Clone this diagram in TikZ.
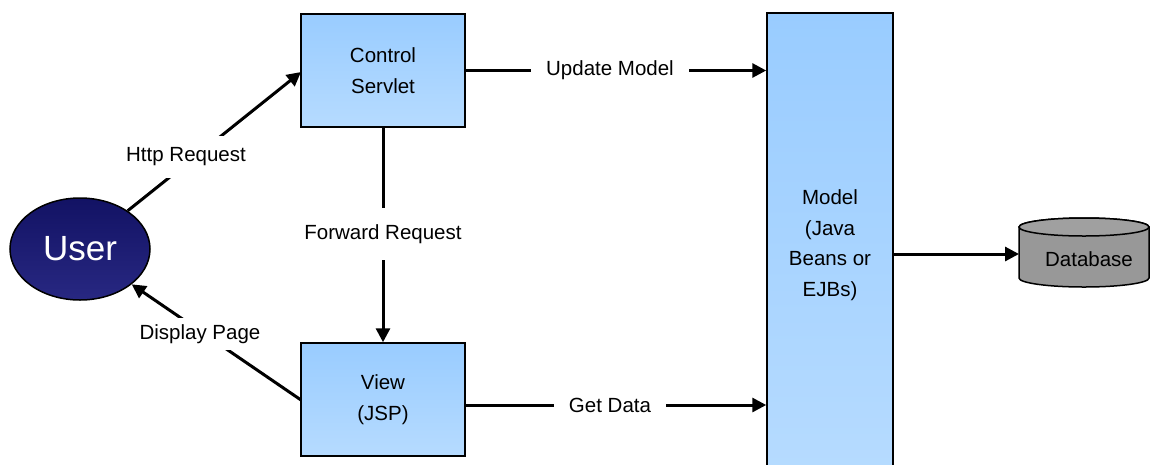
\documentclass[tikz,border=0pt]{standalone}
\usepackage{fontspec}
\setmainfont{Liberation Sans}
\usetikzlibrary{shapes.geometric,arrows.meta}
\definecolor{boxtop}{RGB}{153,204,255}
\definecolor{boxbot}{RGB}{182,219,255}
\definecolor{navytop}{RGB}{18,18,100}
\definecolor{navybot}{RGB}{40,40,130}
\definecolor{dbgray}{RGB}{152,152,152}
\definecolor{dbtop}{RGB}{160,160,160}
\begin{document}
\begin{tikzpicture}[x=1pt,y=-1pt,
  every node/.style={font=\fontsize{20.5}{30.5}\selectfont},
  blockbox/.style={draw=black,line width=1.5pt,top color=boxtop,bottom color=boxbot,
    minimum width=164pt,minimum height=113pt,align=center,inner sep=0pt},
  conn/.style={line width=3pt,-{Triangle[length=14pt,width=14pt]}},
  lbl/.style={fill=white,inner xsep=15pt,inner ysep=11pt}]
\path[use as bounding box] (0,0) rectangle (1150,464);
\clip (0,0) rectangle (1150,464);
\node[blockbox] (ctrl) at (383,70.5) {Control\\Servlet};
\node[blockbox] (view) at (383,399.5) {View\\(JSP)};
\node[draw=black,line width=1.5pt,top color=boxtop,bottom color=boxbot,
  minimum width=126pt,minimum height=460pt,inner sep=0pt] (model) at (830,243) {};
\node[align=center] (modeltxt) at (830,245) {Model\\(Java\\Beans or\\EJBs)};
\node[ellipse,draw=black,line width=1.5pt,top color=navytop,bottom color=navybot,
  minimum width=140pt,minimum height=102pt,inner sep=0pt,text=white,
  font=\fontsize{35}{40}\selectfont] (user) at (80,249) {User};
% database cylinder
\coordinate (db) at (1084,252);
\filldraw[fill=dbgray,draw=black,line width=1.5pt]
  (1019,227) -- (1019,278) arc[start angle=180,end angle=360,x radius=65,y radius=-9]
  -- (1149,227) arc[start angle=0,end angle=180,x radius=65,y radius=-9] -- cycle;
\filldraw[fill=dbtop,draw=black,line width=1.5pt] (1084,227) ellipse[x radius=65,y radius=9];
\node (dbtxt) at (1089,259) {Database};
\coordinate (dbin) at (1019,254);
\coordinate (ctrlin) at (301,72);
\coordinate (viewout) at (301,400);
\draw[conn] (user) -- (ctrlin);
\draw[conn] (viewout) -- (user);
\draw[conn] (ctrl.south) -- (view.north);
\draw[conn] (ctrl.east) -- (ctrl.east -| model.west);
\draw[conn] (view.east |- 0,405) -- (model.west |- 0,405);
\draw[conn] (model.east |- dbin) -- (dbin);
\node[lbl,inner ysep=12pt] (l1) at (186,157) {Http Request};
\node[lbl,inner ysep=6pt,inner xsep=17pt] (l2) at (200,334) {Display Page};
\node[lbl,inner ysep=16pt] (l3) at (383,234) {Forward Request};
\node[lbl] (l4) at (610,70) {Update Model};
\node[lbl] (l5) at (610,405) {Get Data};
\end{tikzpicture}
\end{document}
